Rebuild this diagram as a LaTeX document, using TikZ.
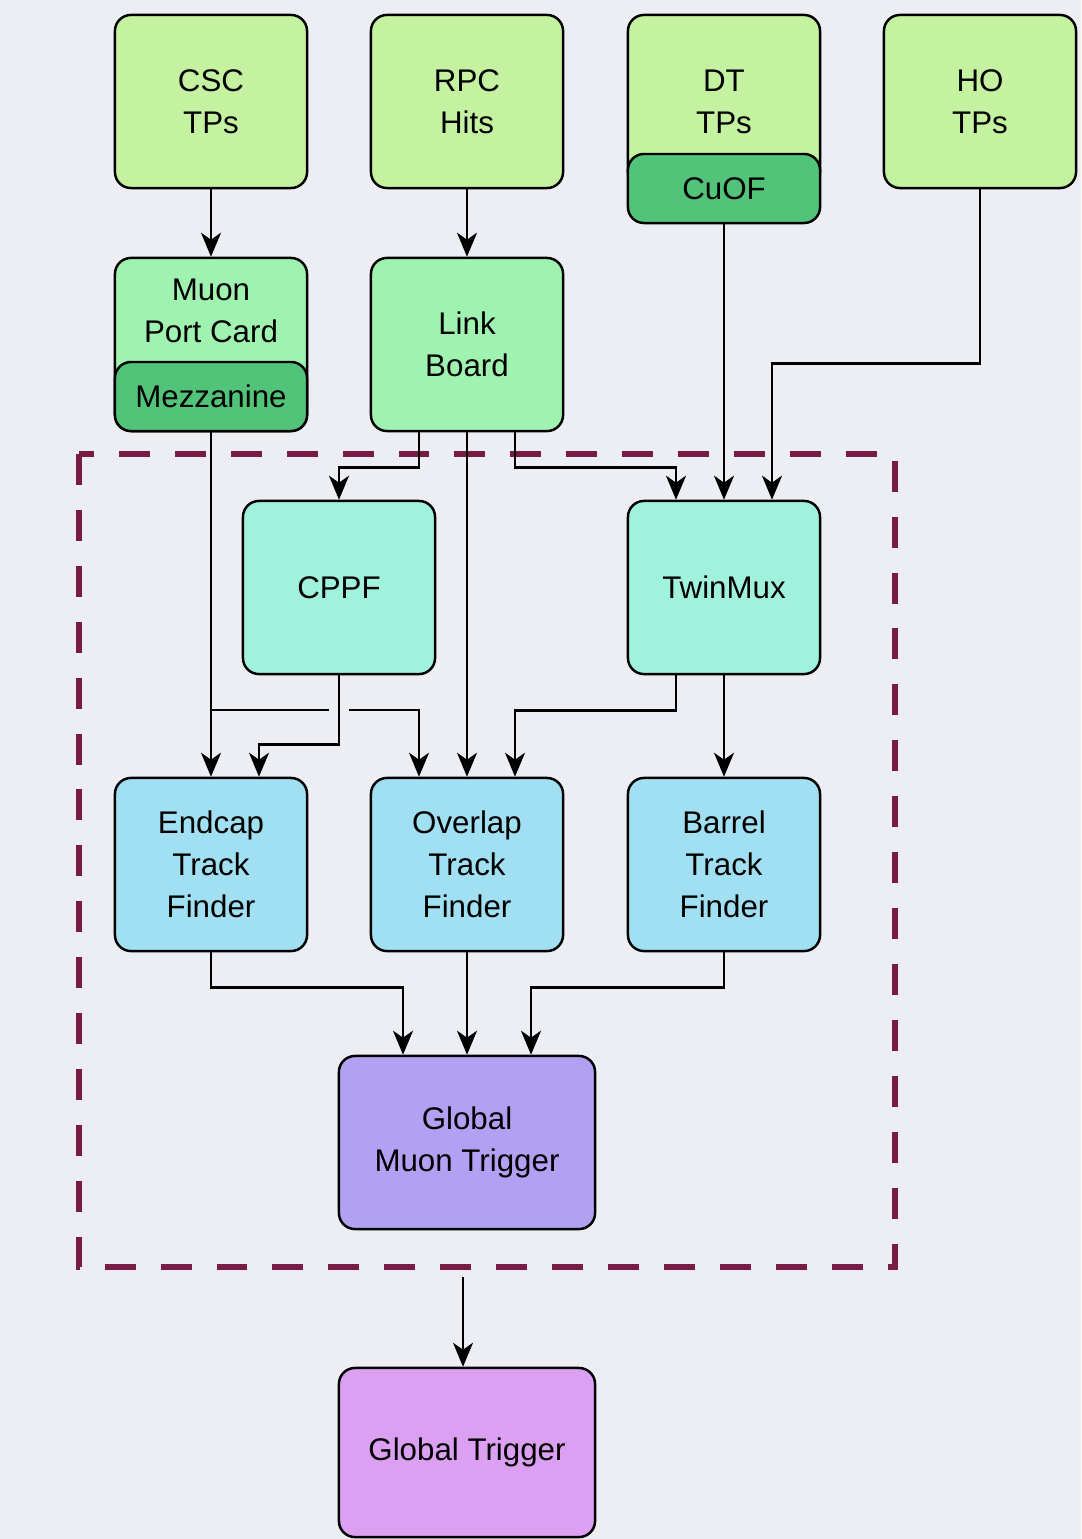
\documentclass[tikz,border=0pt]{standalone}
\usepackage{fontspec}
\setmainfont{Liberation Sans}
\usepackage{tikz}
\usetikzlibrary{arrows.meta, calc}

\definecolor{bgcol}{HTML}{EDEEF3}
\definecolor{tpgreen}{HTML}{C4F2A0}
\definecolor{midgreen}{HTML}{A0F2B0}
\definecolor{darkgreen}{HTML}{52C47A}
\definecolor{concgreen}{HTML}{A0F2DC}
\definecolor{tfblue}{HTML}{A0E0F2}
\definecolor{gmtpurple}{HTML}{B2A0F2}
\definecolor{gtpink}{HTML}{DCA0F2}
\definecolor{l1tred}{HTML}{771C47}

\begin{document}
\begin{tikzpicture}[x=0.01cm, y=-0.01cm,
    box/.style={draw=black, line width=0.7pt, rounded corners=0.16cm,
        minimum width=1.92cm, minimum height=1.73cm, align=center,
        font=\fontsize{8.9}{12}\selectfont, text=black},
    subbox/.style={box, minimum height=0.69cm},
    arr/.style={-{Stealth[length=0.24cm, width=0.2cm, inset=0.07cm]}, line width=0.7pt},
    region/.style={draw=l1tred, line width=1.9pt, dash pattern=on 8.8pt off 7.1pt}]
    \path[use as bounding box, fill=bgcol] (0,0) rectangle (1081,1539);

    % Level-1 trigger region
    \draw[region] (79,454) rectangle (895,1267);

    % Inputs
    \node[box, fill=tpgreen] (csc) at (211,101.5) {CSC\\TPs};
    \node[box, fill=tpgreen] (rpc) at (467,101.5) {RPC\\Hits};
    \node[box, fill=tpgreen] (dt) at (724,101.5) {DT\\TPs};
    \node[subbox, fill=darkgreen] (cuof) at (724,188.5) {CuOF};
    \node[box, fill=tpgreen] (ho) at (980,101.5) {HO\\TPs};

    % Front-end boards
    \node[box, fill=midgreen] (mpc) at (211,344.5) {};
    \node[align=center, font=\fontsize{8.9}{12}\selectfont] (mpctext) at (211,311) {Muon\\Port Card};
    \node[subbox, fill=darkgreen] (mezz) at (211,396.5) {Mezzanine};
    \node[box, fill=midgreen] (link) at (467,344.5) {Link\\Board};

    % Concentrators
    \node[box, fill=concgreen] (cppf) at (339,587.5) {CPPF};
    \node[box, fill=concgreen] (twinmux) at (724,587.5) {TwinMux};

    % Track finders
    \node[box, fill=tfblue] (etf) at (211,864.5) {Endcap\\Track\\Finder};
    \node[box, fill=tfblue] (otf) at (467,864.5) {Overlap\\Track\\Finder};
    \node[box, fill=tfblue] (btf) at (724,864.5) {Barrel\\Track\\Finder};

    % Global
    \node[box, fill=gmtpurple, minimum width=2.56cm] (gmt) at (467,1142.5) {Global\\Muon Trigger};
    \node[box, fill=gtpink, minimum width=2.56cm, minimum height=1.69cm] (gt) at (467,1452.5) {Global Trigger};

    % Connections
    \draw[arr] (csc) -- (mpc);
    \draw[arr] (rpc) -- (link);
    \draw[arr] ($(link.south)+(-48,0)$) -- ++(0,35) -| (cppf.north);
    \draw[arr] (link) -- (otf);
    \draw[arr] ($(link.south)+(48,0)$) -- ++(0,35) -| ($(twinmux.north)+(-48,0)$);
    \draw[arr] (cuof) -- (twinmux);
    \draw[arr] (ho.south) -- ++(0,174) -| ($(twinmux.north)+(48,0)$);
    \draw[arr] (mezz) -- (etf);
    \draw[line width=0.7pt] ($(mezz.south)+(0,278)$) coordinate (split) -- ++(118,0);
    \draw[arr] ($(split)+(138,0)$) -- ++(70,0) -- ($(otf.north)+(-48,0)$);
    \draw[arr] (cppf.south) -- ++(0,69) -| ($(etf.north)+(48,0)$);
    \draw[arr] ($(twinmux.south)+(-48,0)$) -- ++(0,35) -| ($(otf.north)+(48,0)$);
    \draw[arr] (twinmux) -- (btf);
    \draw[arr] (etf.south) -- ++(0,35) -| ($(gmt.north)+(-64,0)$);
    \draw[arr] (otf) -- (gmt);
    \draw[arr] (btf.south) -- ++(0,35) -| ($(gmt.north)+(64,0)$);
    \coordinate (gmtout) at (463,1277);
    \draw[arr] (gmtout) -- (gmtout |- gt.north);
\end{tikzpicture}
\end{document}
